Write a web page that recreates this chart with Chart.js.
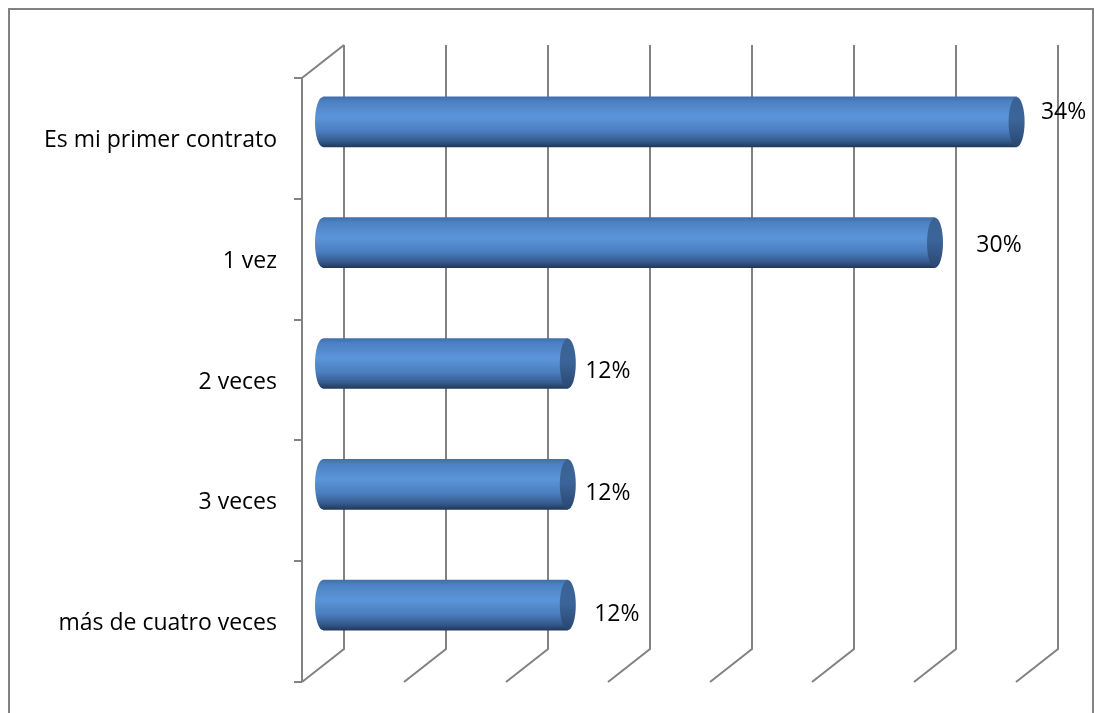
<!DOCTYPE html>
<html>
<head>
<meta charset="utf-8">
<script src="https://cdn.jsdelivr.net/npm/chart.js@4.4.0/dist/chart.umd.min.js"></script>
<style>
  body{margin:0;background:#fff;}
  #wrap{width:1095px;height:713px;position:relative;}
</style>
</head>
<body>
<div id="wrap"><canvas id="myChart"></canvas></div>
<script>
// data
const categories = ['Es mi primer contrato', '1 vez', '2 veces', '3 veces', 'más de cuatro veces']
const values = [34, 30, 12, 12, 12]
const valueLabels = ['34%', '30%', '12%', '12%', '12%']
const gridTicks = [0, 5, 10, 15, 20, 25, 30, 35]

const FONT = '23px "Open Sans", "DejaVu Sans", sans-serif'
const DX = 21, DY = 16.5   // half depth of the fake 3d box
const GRID = '#828282'

function barGradient(g, top, bottom){
    let gr = g.createLinearGradient(0, top, 0, bottom)
    gr.addColorStop(0, '#416fab')
    gr.addColorStop(0.1, '#4d82c3')
    gr.addColorStop(0.4, '#5b95d9')
    gr.addColorStop(0.68, '#4a7ebf')
    gr.addColorStop(0.88, '#365b8e')
    gr.addColorStop(1, '#21395c')
    return gr
}

const box3d = {
    id: 'box3d',
    beforeDatasetsDraw(chart){
        const g = chart.ctx
        const xs = chart.scales.x, ys = chart.scales.y
        const top = chart.chartArea.top, bottom = chart.chartArea.bottom
        g.save()
        // outer frame
        g.strokeStyle = GRID
        g.lineWidth = 2
        g.beginPath()
        g.moveTo(9, 730); g.lineTo(9, 9); g.lineTo(1093, 9); g.lineTo(1093, 730)
        g.stroke()

        // back wall verticals + floor diagonals
        gridTicks.forEach(v => {
            let px = Math.round(xs.getPixelForValue(v))
            g.beginPath()
            g.moveTo(px + DX, top - DY)
            g.lineTo(px + DX, bottom - DY)
            g.lineTo(px - DX, bottom + DY)
            g.stroke()
        })
        // left (category) axis at the front
        let x0 = Math.round(xs.getPixelForValue(0))
        g.beginPath()
        g.moveTo(x0 + DX, top - DY)
        g.lineTo(x0 - DX, top + DY)
        g.lineTo(x0 - DX, bottom + DY)
        g.stroke()
        let band = (bottom - top) / categories.length
        for(let i = 0; i <= categories.length; i++){
            let y = Math.round(top + DY + i * band)
            g.beginPath()
            g.moveTo(x0 - DX - 8, y)
            g.lineTo(x0 - DX, y)
            g.stroke()
        }
        // category labels
        g.fillStyle = '#000'
        g.font = FONT
        g.textAlign = 'right'
        g.textBaseline = 'middle'
        categories.forEach((c, i) => {
            g.fillText(c, x0 - DX - 25, ys.getPixelForValue(i) + DY + 2)
        })
        g.restore()
    },
    afterDatasetsDraw(chart, args, opts){
        const g = chart.ctx
        const meta = chart.getDatasetMeta(0)
        g.save()
        meta.data.forEach((bar, i) => {
            let {x, y, base, height} = bar.getProps(['x', 'y', 'base', 'height'], true)
            let t = y - height / 2, b = y + height / 2, ry = height / 2, rx = 8
            // rounded back end
            g.fillStyle = barGradient(g, t, b)
            g.beginPath()
            g.ellipse(base, y, rx, ry, 0, Math.PI / 2, Math.PI * 1.5)
            g.closePath()
            g.fill()
            // front cap
            let cg = g.createLinearGradient(0, t, 0, b)
            cg.addColorStop(0, '#3a6193')
            cg.addColorStop(0.45, '#3b659a')
            cg.addColorStop(1, '#2a4670')
            g.fillStyle = cg
            g.beginPath()
            g.ellipse(x, y, rx, ry, 0, 0, Math.PI * 2)
            g.fill()
            // value label
            let n = opts.nudge[i]
            g.fillStyle = '#000'
            g.font = FONT
            g.textAlign = 'center'
            g.textBaseline = 'middle'
            g.fillText(valueLabels[i], x + n[0], y + n[1])
        })
        g.restore()
    }
}

const ctx = document.getElementById('myChart')
new Chart(ctx, {
    type: 'bar',
    data: {
        labels: categories,
        datasets: [{
            data: values,
            barThickness: 50,
            borderWidth: 0,
            backgroundColor: function(c){
                let ys = c.chart.scales.y
                if(!ys || c.dataIndex === undefined) return '#4f81bd'
                let cy = ys.getPixelForValue(c.dataIndex)
                if(!isFinite(cy)) return '#4f81bd'
                return barGradient(c.chart.ctx, cy - 25, cy + 25)
            }
        }]
    },
    options: {
        indexAxis: 'y',
        responsive: true,
        maintainAspectRatio: false,
        animation: false,
        layout: {padding: {left: 323, right: 58, top: 61.5, bottom: 47.5}},
        scales: {
            x: {display: false, min: 0, max: 35},
            y: {display: false}
        },
        plugins: {
            legend: {display: false},
            tooltip: {enabled: false},
            box3d: {nudge: [[47, -9], [64, 3], [40, 8], [40, 9], [49, 9]]}
        }
    },
    plugins: [box3d]
});
</script>
</body>
</html>
